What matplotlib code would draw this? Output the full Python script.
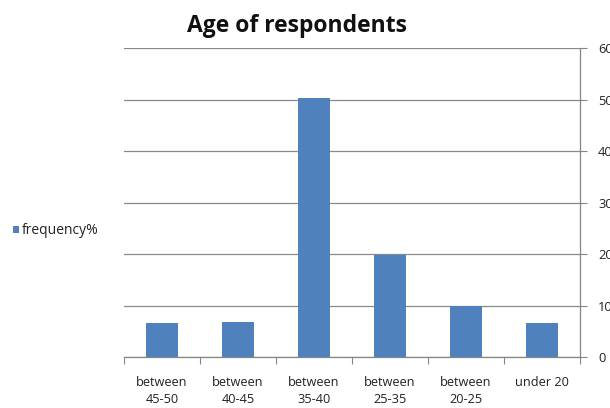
import matplotlib.pyplot as plt
import numpy as np
from matplotlib.patches import Patch

categories = ["between\n45-50", "between\n40-45", "between\n35-40",
              "between\n25-35", "between\n20-25", "under 20"]
frequency = [6.6, 6.8, 50.3, 19.9, 10.0, 6.6]
y_ticks = [0, 10, 20, 30, 40, 50, 60]

plt.rcParams["font.family"] = ["Open Sans", "DejaVu Sans"]

fig = plt.figure(figsize=(6.1, 4.08), dpi=100)
ax = fig.add_axes([0.2033, 0.125, 0.7475, 0.757])

bar_color = "#4F81BD"
x = np.arange(len(categories))
ax.bar(x, frequency, width=0.41, color=bar_color, zorder=3)

ax.set_xlim(-0.5, len(categories) - 0.5)
ax.set_ylim(0, 60)

# y axis on the right, Excel style (labels run off the edge like the original)
ax.yaxis.tick_right()
ax.set_yticks(y_ticks)
ax.tick_params(axis="y", direction="out", length=5, color="#868686",
               labelsize=9.3, labelcolor="#222222", pad=8)
ax.grid(axis="y", color="#8a8a8a", linewidth=0.9, zorder=0)

# category separators as ticks on the x axis
ax.set_xticks(np.arange(-0.5, len(categories)), minor=False)
ax.set_xticklabels([])
ax.set_xticks(x, minor=True)
ax.set_xticklabels(categories, minor=True, fontsize=9.2, color="#222222",
                   linespacing=1.35)
ax.tick_params(axis="x", which="major", direction="out", length=5,
               color="#868686")
ax.tick_params(axis="x", which="minor", length=0, pad=14)

for side in ["top", "left"]:
    ax.spines[side].set_visible(False)
for side in ["right", "bottom"]:
    ax.spines[side].set_color("#868686")
    ax.spines[side].set_linewidth(0.9)

fig.text(0.487, 0.937, "Age of respondents", ha="center", va="center",
         fontsize=16.5, fontweight="bold", color="#111111")

handle = Patch(facecolor=bar_color, edgecolor="none")
fig.legend([handle], ["frequency%"], loc="center left",
           bbox_to_anchor=(0.0, 0.434), frameon=False, fontsize=10,
           handlelength=0.5, handleheight=0.5, handletextpad=0.2,
           labelcolor="#222222")

fig.savefig("out.png", dpi=100)
